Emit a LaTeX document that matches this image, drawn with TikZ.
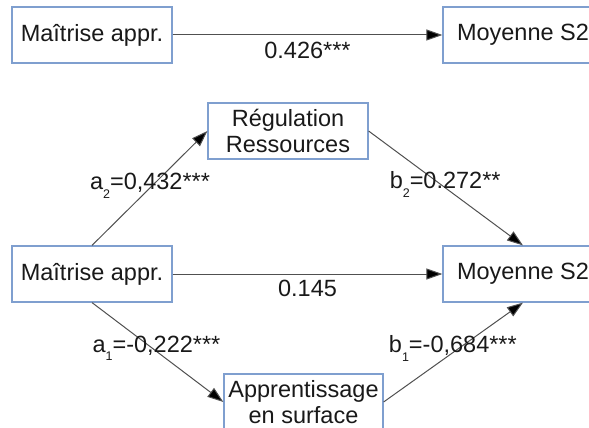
\documentclass[tikz,border=0pt]{standalone}
\usepackage{fontspec}
\setmainfont{Liberation Sans}
\usetikzlibrary{arrows.meta}
\definecolor{boxblue}{HTML}{7F9FCF}
\definecolor{linegray}{HTML}{505050}
\newcommand{\subsc}[1]{\raisebox{-0.38em}{\fontsize{12.5}{12.5}\selectfont #1}}
\tikzset{
  box/.style={draw=boxblue, line width=1.2pt, fill=white, minimum width=160pt, minimum height=56pt,
    inner sep=0pt, align=center, text=black!90, font=\fontsize{23.5}{25.5}\selectfont},
  conn/.style={draw=linegray, line width=1pt, -{Triangle[length=16pt,width=11pt,fill=black]}},
  lbl/.style={font=\fontsize{23.5}{25.5}\selectfont, text=black!90, inner sep=0pt}
}
\begin{document}
\begin{tikzpicture}[x=1pt,y=-1pt]
\useasboundingbox (0,0) rectangle (589,428);
\clip (0,0) rectangle (589,428);
\node[box] (m1) at (92,35) {Maîtrise appr.};
\node[box] (y1) at (523,35) {Moyenne S2};
\node[box] (m2) at (92,274) {Maîtrise appr.};
\node[box] (y2) at (523,274) {Moyenne S2};
\node[box] (reg) at (288,131) {Régulation\\Ressources};
\node[box, minimum width=159pt] (app) at (303.5,402) {Apprentissage\\en surface};
\draw[conn] (m1.east) -- node[lbl, pos=0.5, yshift=-15pt] {0.426***} (y1.west);
\draw[conn] (m2.east) -- node[lbl, pos=0.5, yshift=-14pt] {0.145} (y2.west);
\draw[conn] (m2.north) -- node[lbl, pos=0.52, xshift=-2pt] {a\subsc{2}=0,432***} (reg.west);
\draw[conn] (reg.east) -- node[lbl, pos=0.47, xshift=4pt] {b\subsc{2}=0.272**} (y2.north);
\draw[conn] (m2.south) -- node[lbl, pos=0.46, xshift=4pt] {a\subsc{1}=-0,222***} (app.west);
\draw[conn] (app.east) -- node[lbl, pos=0.54, xshift=-6pt] {b\subsc{1}=-0,684***} (y2.south);
\end{tikzpicture}
\end{document}
